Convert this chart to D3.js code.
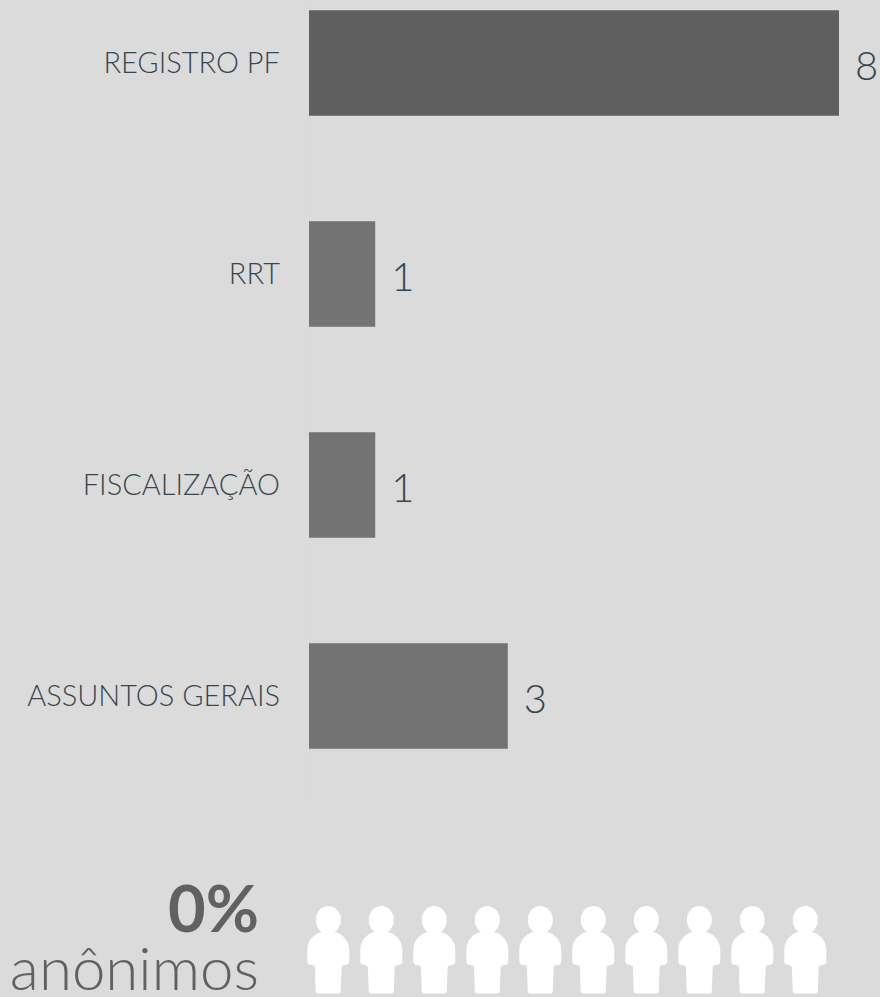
<!DOCTYPE html>
<html>
<head>
<meta charset="utf-8">
<script src="https://cdn.jsdelivr.net/npm/d3@7"></script>
<style>
  html, body { margin: 0; padding: 0; background: #dbdbdb; overflow: hidden; }
  text { font-family: Lato, "Noto Sans", sans-serif; }
</style>
</head>
<body>
<div id="chart"></div>
<script>
/* DATA */
const categories = ["REGISTRO PF", "RRT", "FISCALIZAÇÃO", "ASSUNTOS GERAIS"];
const values = [8, 1, 1, 3];
const anonPercent = "0%";
const anonLabel = "anônimos";
const people = [1, 2, 3, 4, 5, 6, 7, 8, 9, 10];

const width = 880, height = 997;

const svg = d3.select("#chart").append("svg")
  .attr("width", width)
  .attr("height", height)
  .style("display", "block");

/* SCALES */
const xScale = d3.scaleLinear().domain([0, 8]).range([309, 839]);
const yScale = d3.scaleBand().domain(categories).range([-42.5, 801.5]).paddingInner(0.5).paddingOuter(0.25);
const peopleScale = d3.scalePoint().domain(people).range([328.3, 805.3]);

/* AXIS */
const yAxis = d3.axisLeft(yScale).tickSize(0).tickPadding(29);
const yAxisGroup = svg.append("g")
  .attr("transform", "translate(309,0)")
  .call(yAxis);
yAxisGroup.select(".domain").attr("stroke", "#d8d8d8").attr("stroke-width", 1);
yAxisGroup.selectAll("text")
  .attr("font-size", 29)
  .attr("font-weight", 300)
  .attr("fill", "#37474f")
  .attr("dy", "0.35em");

/* BARS */
svg.selectAll("rect.bar")
  .data(categories)
  .join("rect")
  .attr("class", "bar")
  .attr("x", xScale(0))
  .attr("y", d => yScale(d))
  .attr("width", (d, i) => xScale(values[i]) - xScale(0))
  .attr("height", yScale.bandwidth())
  .attr("fill", (d, i) => values[i] === d3.max(values) ? "#5f5f5f" : "#737373");

svg.selectAll("text.value")
  .data(categories)
  .join("text")
  .attr("class", "value")
  .attr("x", (d, i) => xScale(values[i]) + 16)
  .attr("y", d => yScale(d) + yScale.bandwidth() / 2 + 3)
  .attr("dy", "0.36em")
  .attr("font-size", 40)
  .attr("font-weight", 300)
  .attr("fill", "#37474f")
  .text((d, i) => values[i]);

/* ANONYMOUS BLOCK */
svg.append("text")
  .attr("x", 259).attr("y", 932)
  .attr("text-anchor", "end")
  .attr("font-size", 65)
  .attr("font-weight", 700)
  .attr("fill", "#616161")
  .text(anonPercent);

svg.append("text")
  .attr("x", 259).attr("y", 990)
  .attr("text-anchor", "end")
  .attr("font-size", 60)
  .attr("font-weight", 300)
  .attr("fill", "#616161")
  .text(anonLabel);

/* little people, drawn around a center x of 0 */
const personBody = "M-21,950 C-21,939 -12,932 -5,932 L5,932 C12,932 21,939 21,950 L21,961 Q21,965 17,965 L13.5,966 L12.5,991 Q12.5,993.5 10,993.5 L-10,993.5 Q-12.5,993.5 -12.5,991 L-13.5,966 L-17,965 Q-21,965 -21,961 Z";
const person = svg.selectAll("g.person")
  .data(people)
  .join("g")
  .attr("class", "person")
  .attr("transform", d => `translate(${peopleScale(d)},0)`)
  .attr("fill", "#ffffff");
person.append("ellipse")
  .attr("cx", 0).attr("cy", 920).attr("rx", 12.5).attr("ry", 14);
person.append("path").attr("d", personBody);
</script>
</body>
</html>
